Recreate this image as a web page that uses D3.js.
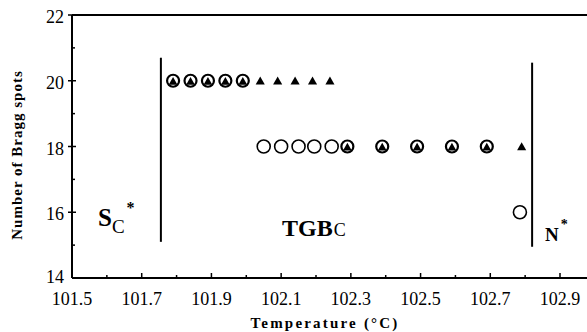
<!DOCTYPE html>
<html>
<head>
<meta charset="utf-8">
<script src="https://cdn.jsdelivr.net/npm/d3@7"></script>
<style>
  body { margin: 0; background: #fff; }
  svg { display: block; }
  text { font-family: 'Liberation Serif', 'DejaVu Serif', serif; }
</style>
</head>
<body>
<svg id="chart" width="587" height="332"></svg>
<script>
// data
var xTicks = [101.5, 101.7, 101.9, 102.1, 102.3, 102.5, 102.7, 102.9];
var xMinor = [101.6, 101.8, 102.0, 102.2, 102.4, 102.6, 102.8];
var yTicks = [14, 16, 18, 20, 22];
var yMinor = [15, 17, 19, 21];

// circled triangle = both, triangle only, open circle only
var both20 = [101.79, 101.84, 101.89, 101.94, 101.99];
var tri20 = [102.04, 102.09, 102.14, 102.19, 102.24];
var open18 = [102.05, 102.10, 102.15, 102.195, 102.245];
var both18 = [102.29, 102.39, 102.49, 102.59, 102.69];
var tri18 = [102.79];
var open16 = [102.785];

// phase boundaries [temperature, yTop, yBottom]
var bounds = [[101.755, 20.7, 15.1], [102.82, 20.55, 14.95]];

var svg = d3.select("#chart").attr("font-family", "'Liberation Serif', 'DejaVu Serif', serif");
var x = d3.scaleLinear().domain([101.5, 102.9]).range([72, 560]);
var y = d3.scaleLinear().domain([14, 22]).range([278, 15]);

// axes frame
var axisG = svg.append("g").attr("stroke", "#000").attr("stroke-width", 2);
axisG.append("line").attr("x1", 72).attr("x2", 587).attr("y1", y(14)).attr("y2", y(14));
axisG.append("line").attr("x1", 72).attr("x2", 587).attr("y1", y(22)).attr("y2", y(22));
axisG.append("line").attr("x1", 72).attr("x2", 72).attr("y1", y(22)).attr("y2", y(14));

// x ticks inward
svg.selectAll(".xt").data(xTicks.slice(1)).enter().append("line")
  .attr("x1", function(d){return x(d);}).attr("x2", function(d){return x(d);})
  .attr("y1", y(14)).attr("y2", y(14) - 5).attr("stroke", "#000").attr("stroke-width", 1.5);
svg.selectAll(".xm").data(xMinor).enter().append("line")
  .attr("x1", function(d){return x(d);}).attr("x2", function(d){return x(d);})
  .attr("y1", y(14)).attr("y2", y(14) - 3).attr("stroke", "#000").attr("stroke-width", 1.5);
svg.selectAll(".xl").data(xTicks).enter().append("text")
  .attr("x", function(d){return x(d);}).attr("y", 305)
  .attr("text-anchor", "middle").attr("font-size", 18)
  .text(function(d){return d3.format(".1f")(d);});

// y ticks
svg.selectAll(".yt").data(yTicks.slice(1)).enter().append("line")
  .attr("x1", 68).attr("x2", 76)
  .attr("y1", function(d){return y(d);}).attr("y2", function(d){return y(d);})
  .attr("stroke", "#000").attr("stroke-width", 1.5);
svg.selectAll(".ym").data(yMinor).enter().append("line")
  .attr("x1", 72).attr("x2", 75)
  .attr("y1", function(d){return y(d);}).attr("y2", function(d){return y(d);})
  .attr("stroke", "#000").attr("stroke-width", 1.5);
svg.selectAll(".yl").data(yTicks).enter().append("text")
  .attr("x", 64).attr("y", function(d){return y(d) + (d === 14 ? 5 : 8);})
  .attr("text-anchor", "end").attr("font-size", 18)
  .text(function(d){return d;});

// axis titles
svg.append("text").attr("x", 325).attr("y", 328).attr("text-anchor", "middle")
  .attr("font-size", 15).attr("font-weight", "bold").attr("letter-spacing", 2.2)
  .text("Temperature  (\u00B0C)");
svg.append("text").attr("transform", "translate(22,155) rotate(-90)").attr("text-anchor", "middle")
  .attr("font-size", 15).attr("font-weight", "bold").attr("letter-spacing", 1)
  .text("Number  of  Bragg  spots");

// phase boundaries
svg.selectAll(".bd").data(bounds).enter().append("line")
  .attr("x1", function(d){return x(d[0]);}).attr("x2", function(d){return x(d[0]);})
  .attr("y1", function(d){return y(d[1]);}).attr("y2", function(d){return y(d[2]);})
  .attr("stroke", "#000").attr("stroke-width", 2);

// markers
function tri(cx, cy, s) {
  return "M" + cx + "," + (cy - s) + "L" + (cx + s * 0.95) + "," + (cy + s * 0.7) + "L" + (cx - s * 0.95) + "," + (cy + s * 0.7) + "Z";
}
function drawOpen(data, v) {
  svg.selectAll(null).data(data).enter().append("circle")
    .attr("cx", function(d){return x(d);}).attr("cy", y(v)).attr("r", 6.5)
    .attr("fill", "#fff").attr("stroke", "#000").attr("stroke-width", 1.6);
}
function drawTri(data, v) {
  svg.selectAll(null).data(data).enter().append("path")
    .attr("d", function(d){return tri(x(d), y(v) + 0.5, 4.8);}).attr("fill", "#000");
}
function drawBoth(data, v) {
  svg.selectAll(null).data(data).enter().append("circle")
    .attr("cx", function(d){return x(d);}).attr("cy", y(v)).attr("r", 6)
    .attr("fill", "#fff").attr("stroke", "#000").attr("stroke-width", 2.2);
  svg.selectAll(null).data(data).enter().append("path")
    .attr("d", function(d){return tri(x(d), y(v) + 0.8, 4.6);}).attr("fill", "#000");
}
drawBoth(both20, 20);
drawTri(tri20, 20);
drawOpen(open18, 18);
drawBoth(both18, 18);
drawTri(tri18, 18);
drawOpen(open16, 16);

// phase labels
var sc = svg.append("text").attr("x", 98).attr("y", 226).attr("font-size", 25).attr("font-weight", "bold");
sc.append("tspan").text("S");
sc.append("tspan").attr("dy", 7).attr("font-size", 19).attr("font-weight", "normal").text("C");
sc.append("tspan").attr("dy", -20).attr("dx", 2).attr("font-size", 16).text("*");

var tg = svg.append("text").attr("x", 282).attr("y", 236).attr("font-size", 24).attr("font-weight", "bold");
tg.append("tspan").text("TGB");
tg.append("tspan").attr("dx", 1).attr("font-size", 18).attr("font-weight", "normal").text("C");

var nn = svg.append("text").attr("x", 545).attr("y", 241).attr("font-size", 19).attr("font-weight", "bold");
nn.append("tspan").text("N");
nn.append("tspan").attr("dy", -12).attr("dx", 2).attr("font-size", 14).text("*");
</script>
</body>
</html>
